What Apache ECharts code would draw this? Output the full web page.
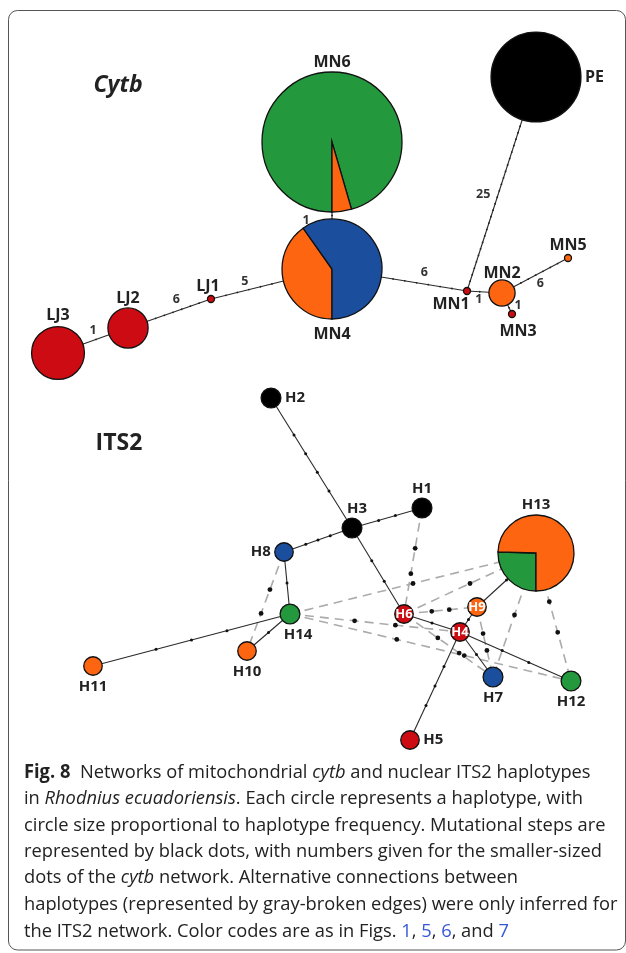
<!DOCTYPE html>
<html>
<head>
<meta charset="utf-8">
<script src="https://cdn.jsdelivr.net/npm/echarts@6/dist/echarts.min.js"></script>
<style>
html,body{margin:0;padding:0;background:#fff;}
#c{width:626px;height:953px;}
</style>
</head>
<body>
<div id="c"></div>
<script>
// ---------------- DATA ----------------
// Cytb network: haplotypes, layout coordinates and frequencies by colour group
const cytbNames  = ['MN6','PE','MN4','LJ1','LJ2','LJ3','MN1','MN2','MN3','MN5'];
const cytbX      = [332, 536, 332, 211, 128,  58, 467, 502, 512, 568];
const cytbY      = [142,  77, 269, 299, 328, 353, 291, 293, 314, 258];
const cytbGreen  = [382,   0,   0,   0,   0,   0,   0,   0,   0,   0];
const cytbOrange = [ 18,   0,  82,   0,   0,   0,   0,  14,   0,   1];
const cytbBlue   = [  0,   0, 122,   0,   0,   0,   0,   0,   0,   0];
const cytbRed    = [  0,   0,   0,   1,  33,  57,   1,   0,   1,   0];
const cytbBlack  = [  0, 165,   0,   0,   0,   0,   0,   0,   0,   0];
// Cytb edges (indices into cytbNames) and number of mutational steps
const cytbEdgeFrom = [5, 4, 3, 2, 2, 6, 6, 7, 7];
const cytbEdgeTo   = [4, 3, 2, 0, 6, 1, 7, 8, 9];
const cytbSteps    = [1, 6, 5, 1, 6, 25, 1, 1, 6];

// ITS2 network
const itsNames  = ['H1','H2','H3','H4','H5','H6','H7','H8','H9','H10','H11','H12','H13','H14'];
const itsX      = [422, 271, 352, 460, 410, 404, 493, 284, 477, 247,  93, 571, 536, 290];
const itsY      = [508, 398, 528, 632, 740, 614, 677, 552, 607, 651, 666, 681, 553, 614];
const itsGreen  = [  0,   0,   0,   0,   0,   0,   0,   0,   0,   0,   0,   8,  30,   8];
const itsOrange = [  0,   0,   0,   0,   0,   0,   0,   0,   7,   7,   7,   0,  88,   0];
const itsBlue   = [  0,   0,   0,   0,   0,   0,   8,   7,   0,   0,   0,   0,   0,   0];
const itsRed    = [  0,   0,   0,   7,   7,   7,   0,   0,   0,   0,   0,   0,   0,   0];
const itsBlack  = [  8,   8,   8,   0,   0,   0,   0,   0,   0,   0,   0,   0,   0,   0];
// ITS2 edges: from, to, mutational steps, alternative (gray-broken) connection flag
const itsEdgeFrom  = [1, 2, 2, 2, 7, 13, 13, 5, 3, 8, 3, 3, 3,   0, 7, 13, 5, 5, 13, 13, 5, 8, 12, 12];
const itsEdgeTo    = [2, 0, 7, 5, 13, 10, 9, 3, 8, 12, 6, 11, 4,  5, 9, 12, 12, 8, 3, 11, 6, 6, 6, 11];
const itsSteps     = [4, 2, 3, 2, 1, 3, 1, 1, 1, 1, 1, 2, 3,     2, 2, 1, 1, 2, 2, 2, 2, 2, 1, 2];
const itsAlt       = [0, 0, 0, 0, 0, 0, 0, 0, 0, 0, 0, 0, 0,     1, 1, 1, 1, 1, 1, 1, 1, 1, 1, 1];

// ---------------- STYLE / LAYOUT CONFIG ----------------
const PALETTE = ['#23983d', '#fd6511', '#1b4f9e', '#cc0c12', '#000000']; // green, orange, blue, red, black
const K = 3.5; // circle radius per sqrt(frequency), in axis units
const FONT = '"Open Sans", "Noto Sans", sans-serif';
const labelPlacement = {
  MN6:['top',0,-1], PE:['right',0,0], MN4:['bottom',0,5], LJ1:['top',-3,0], LJ2:['top',0,0],
  LJ3:['top',0,-2], MN1:['bottom',-16,0], MN2:['top',0,3], MN3:['bottom',6,4], MN5:['top',0,0],
  H1:['top',0,0], H2:['right',0,0], H3:['top',5,0], H4:['inside',0,0], H5:['right',0,0],
  H6:['inside',0,0], H7:['bottom',0,1], H8:['left',0,0], H9:['inside',0,0], H10:['bottom',0,1],
  H11:['bottom',0,1], H12:['bottom',0,1], H13:['top',0,-1], H14:['bottom',8,1]
};
const cytbStepLabelOffset = [[-3,-8.5],[-1,-11],[-4,-8.6],[-26,4.5],[2,-11],[-12,-9],[-1,8],[9,-2],[1,10]];

// ---------------- BUILD SERIES DATA ----------------
const allNames = cytbNames.concat(itsNames);
const nodeData = [];
cytbNames.forEach((n, i) => nodeData.push([cytbX[i], cytbY[i], cytbGreen[i], cytbOrange[i], cytbBlue[i], cytbRed[i], cytbBlack[i], i, 0]));
itsNames.forEach((n, i) => nodeData.push([itsX[i], itsY[i], itsGreen[i], itsOrange[i], itsBlue[i], itsRed[i], itsBlack[i], cytbNames.length + i, 1]));
const totals = nodeData.map(r => r[2] + r[3] + r[4] + r[5] + r[6]);

const edgeData = [];
cytbEdgeFrom.forEach((f, i) => {
  const t = cytbEdgeTo[i];
  edgeData.push([cytbX[f], cytbY[f], cytbX[t], cytbY[t], cytbSteps[i], 0, totals[f], totals[t], 0, i]);
});
const off = cytbNames.length;
// draw alternative (dashed) edges first so solid ones sit on top
const itsOrder = itsEdgeFrom.map((_, i) => i).sort((a, b) => itsAlt[b] - itsAlt[a]);
itsOrder.forEach(i => {
  const f = itsEdgeFrom[i], t = itsEdgeTo[i];
  edgeData.push([itsX[f], itsY[f], itsX[t], itsY[t], itsSteps[i], itsAlt[i], totals[off + f], totals[off + t], 1, i]);
});

// ---------------- RENDERERS ----------------
function renderEdge(params, api) {
  const p1 = api.coord([api.value(0), api.value(1)]);
  const p2 = api.coord([api.value(2), api.value(3)]);
  const steps = api.value(4), alt = api.value(5), net = api.value(8), ei = api.value(9);
  const r1 = api.size([K * Math.sqrt(api.value(6)), 0])[0];
  const r2 = api.size([K * Math.sqrt(api.value(7)), 0])[0];
  const dx = p2[0] - p1[0], dy = p2[1] - p1[1];
  const L = Math.hypot(dx, dy), ux = dx / L, uy = dy / L;
  const children = [];
  children.push({
    type: 'line',
    shape: {x1: p1[0], y1: p1[1], x2: p2[0], y2: p2[1]},
    style: alt ? {stroke: '#ababab', lineWidth: 1.6, lineDash: [9, 6]}
               : {stroke: '#2a2a2a', lineWidth: 1.1}
  });
  if (net === 0) {
    const span = L - r1 - r2, gap = span / (steps + 1);
    for (let k = 1; k <= steps; k++) {
      const d = r1 + gap * k;
      children.push({type: 'circle', shape: {cx: p1[0] + ux * d, cy: p1[1] + uy * d, r: 0.9}, style: {fill: '#222'}});
    }
    const mx = (p1[0] + ux * r1 + p2[0] - ux * r2) / 2;
    const my = (p1[1] + uy * r1 + p2[1] - uy * r2) / 2;
    const o = cytbStepLabelOffset[ei];
    children.push({
      type: 'text', x: mx + o[0], y: my + o[1], z2: 5,
      style: {text: String(steps), fill: '#333', fontSize: 12.5, fontWeight: 'bold', fontFamily: FONT,
              align: 'center', verticalAlign: 'middle'}
    });
  } else {
    const gap = 0.72 * L / (steps + 1);
    for (let k = 0; k < steps; k++) {
      const d = L / 2 + (k - (steps - 1) / 2) * gap;
      children.push({type: 'circle', shape: {cx: p1[0] + ux * d, cy: p1[1] + uy * d, r: alt ? 2.4 : 1.5}, style: {fill: '#111'}});
    }
  }
  return {type: 'group', children};
}

function renderNode(params, api) {
  const c = api.coord([api.value(0), api.value(1)]);
  const counts = [api.value(2), api.value(3), api.value(4), api.value(5), api.value(6)];
  const total = counts.reduce((a, b) => a + b, 0);
  const r = api.size([K * Math.sqrt(total), 0])[0];
  const name = allNames[api.value(7)];
  const net = api.value(8);
  const children = [];
  const used = counts.filter(v => v > 0).length;
  if (used === 1) {
    const ci = counts.findIndex(v => v > 0);
    children.push({type: 'circle', shape: {cx: c[0], cy: c[1], r}, style: {fill: PALETTE[ci], stroke: '#111', lineWidth: 1.3}});
  } else {
    let a = Math.PI / 2;
    counts.forEach((v, i) => {
      if (!v) return;
      const da = v / total * Math.PI * 2;
      children.push({type: 'sector', shape: {cx: c[0], cy: c[1], r0: 0, r, startAngle: a, endAngle: a + da, clockwise: true},
                     style: {fill: PALETTE[i], stroke: '#111', lineWidth: 1.3}});
      a += da;
    });
  }
  const lp = labelPlacement[name] || ['top', 0, 0];
  let x = c[0], y = c[1], align = 'center';
  if (lp[0] === 'top') y = c[1] - r - 9;
  else if (lp[0] === 'bottom') y = c[1] + r + 10;
  else if (lp[0] === 'right') { x = c[0] + r + 4; align = 'left'; }
  else if (lp[0] === 'left') { x = c[0] - r - 4; align = 'right'; }
  const inside = lp[0] === 'inside';
  children.push({
    type: 'text', x: x + lp[1], y: y + lp[2], z2: 10,
    style: {text: name, fill: inside ? '#fff' : '#222', fontSize: inside ? 13 : (net === 0 ? 16 : 15),
            fontWeight: 'bold', fontFamily: FONT, align, verticalAlign: 'middle'}
  });
  return {type: 'group', children};
}

// ---------------- CAPTION ----------------
const capLines = [
  [['Fig. 8', 'b'], ['  Networks of mitochondrial ', 'n'], ['cytb', 'i'], [' and nuclear ITS2 haplotypes', 'n']],
  [['in ', 'n'], ['Rhodnius ecuadoriensis', 'i'], ['. Each circle represents a haplotype, with', 'n']],
  [['circle size proportional to haplotype frequency. Mutational steps are', 'n']],
  [['represented by black dots, with numbers given for the smaller-sized', 'n']],
  [['dots of the ', 'n'], ['cytb', 'i'], [' network. Alternative connections between', 'n']],
  [['haplotypes (represented by gray-broken edges) were only inferred for', 'n']],
  [['the ITS2 network. Color codes are as in Figs. ', 'n'], ['1', 'a'], [', ', 'n'], ['5', 'a'], [', ', 'n'], ['6', 'a'], [', and ', 'n'], ['7', 'a']]
];
const CAP_SIZE = 19;
const capStyles = {
  n: {fontSize: CAP_SIZE, fontFamily: FONT, fill: '#222'},
  b: {fontSize: CAP_SIZE, fontFamily: FONT, fontWeight: 'bold', fill: '#222'},
  i: {fontSize: CAP_SIZE, fontFamily: FONT, fontStyle: 'italic', fill: '#222'},
  a: {fontSize: CAP_SIZE, fontFamily: FONT, fill: '#3558d6'}
};
function cssFont(k) {
  const s = capStyles[k];
  return (s.fontStyle || 'normal') + ' ' + (s.fontWeight || 'normal') + ' ' + s.fontSize + 'px ' + s.fontFamily;
}
const mctx = document.createElement('canvas').getContext('2d');
function measure(segs) {
  let w = 0;
  segs.forEach(([t, k]) => { mctx.font = cssFont(k); w += mctx.measureText(t).width; });
  return w;
}
const capScale = 578 / measure(capLines[3]);
const capY = [773, 799, 826, 852, 878, 905, 932];
const capGraphics = capLines.map((segs, i) => ({
  type: 'text', x: 24, y: capY[i], scaleX: capScale, originX: 0, originY: 0,
  style: {text: segs.map(([t, k]) => '{' + k + '|' + t + '}').join(''), rich: capStyles,
          fontSize: CAP_SIZE, fontFamily: FONT, fill: '#222', verticalAlign: 'middle', align: 'left'}
}));

// ---------------- CHART ----------------
const chart = echarts.init(document.getElementById('c'), null, {renderer: 'canvas'});
chart.setOption({
  backgroundColor: '#fff',
  animation: false,
  grid: {left: 0, right: 0, top: 0, bottom: 0, containLabel: false},
  xAxis: {type: 'value', min: 0, max: 626, show: false},
  yAxis: {type: 'value', min: 0, max: 953, inverse: true, show: false},
  graphic: [
    {type: 'rect', shape: {x: 8.5, y: 10.5, width: 617, height: 939.5, r: 9},
     style: {fill: 'transparent', stroke: '#555', lineWidth: 1}, z: 0},
    {type: 'text', x: 118, y: 85, style: {text: 'Cytb', fontSize: 23, fontWeight: 'bold', fontStyle: 'italic',
      fontFamily: FONT, fill: '#222', align: 'center', verticalAlign: 'middle'}},
    {type: 'text', x: 119, y: 443, style: {text: 'ITS2', fontSize: 23, fontWeight: 'bold',
      fontFamily: FONT, fill: '#222', align: 'center', verticalAlign: 'middle'}}
  ].concat(capGraphics),
  series: [
    {type: 'custom', name: 'edges', coordinateSystem: 'cartesian2d', renderItem: renderEdge,
     data: edgeData, encode: {x: [0, 2], y: [1, 3]}, z: 1, silent: true},
    {type: 'custom', name: 'haplotypes', coordinateSystem: 'cartesian2d', renderItem: renderNode,
     data: nodeData, encode: {x: 0, y: 1}, z: 2, silent: true}
  ]
});
</script>
</body>
</html>
